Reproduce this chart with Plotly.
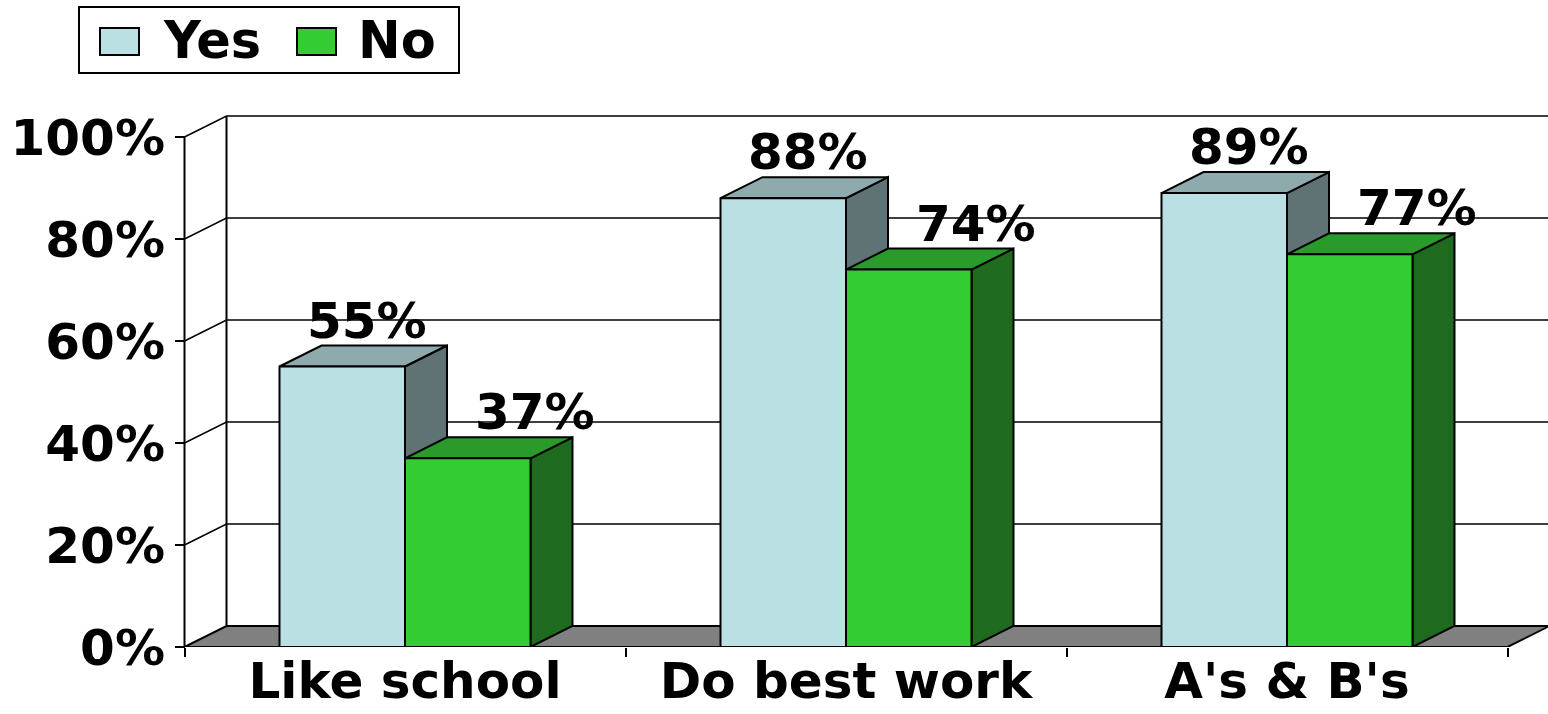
import plotly.graph_objects as go

# ---- data -------------------------------------------------------------
categories = ["Like school", "Do best work", "A's & B's"]
series_names = ["Yes", "No"]
yes_values = [55, 88, 89]
no_values = [37, 74, 77]
y_ticks = [0, 20, 40, 60, 80, 100]
y_tick_labels = ["0%", "20%", "40%", "60%", "80%", "100%"]

# ---- styling ----------------------------------------------------------
FONT = "DejaVu Sans"
FACE_COLORS = {
    "Yes": {"front": "#BBE0E3", "top": "#8FAAAC", "side": "#5F7374"},
    "No": {"front": "#33CC33", "top": "#2A9A2A", "side": "#1E6A1E"},
}
FLOOR_COLOR = "#808080"
EDGE = "black"

W, H = 1548, 714
MARGIN_B = 67
PX_PER_CAT = 441.0          # pixels per category slot
PX_PER_PCT = 5.1            # pixels per percent
FIRST_CENTER_PX = 405.0     # pixel x of first category centre
AXIS_PX = 185.0             # pixel x of the front value axis

BAR_W = 125.5 / PX_PER_CAT  # bar width in category units
DX = 42.0 / PX_PER_CAT      # depth offset (x) in category units
DY = 21.0 / PX_PER_PCT      # depth offset (y) in percent units

plot_h = H - MARGIN_B
x_lo = -(FIRST_CENTER_PX) / PX_PER_CAT
x_range = [x_lo, x_lo + W / PX_PER_CAT]
y_range = [0, plot_h / PX_PER_PCT]

n = len(categories)
left_edge = -0.5
right_edge = n - 0.5

fig = go.Figure()


def poly(xs, ys, fill, width=2):
    fig.add_trace(go.Scatter(
        x=list(xs) + [xs[0]], y=list(ys) + [ys[0]],
        mode="lines", fill="toself", fillcolor=fill,
        line=dict(color=EDGE, width=width),
        hoverinfo="skip", showlegend=False,
    ))


# back wall gridlines
gx, gy = [], []
for v in y_ticks[1:]:
    gx += [left_edge, left_edge + DX, x_range[1] + 1, None]
    gy += [v, v + DY, v + DY, None]
fig.add_trace(go.Scatter(x=gx, y=gy, mode="lines",
                         line=dict(color=EDGE, width=1.5),
                         hoverinfo="skip", showlegend=False))
# back wall left edge
fig.add_trace(go.Scatter(x=[left_edge + DX, left_edge + DX],
                         y=[DY, y_ticks[-1] + DY], mode="lines",
                         line=dict(color=EDGE, width=2),
                         hoverinfo="skip", showlegend=False))

# floor
poly([left_edge, right_edge, right_edge + DX, left_edge + DX],
     [0, 0, DY, DY], FLOOR_COLOR)

# bars: side, top, front for each box
for i in range(n):
    for s, (name, vals) in enumerate(zip(series_names, [yes_values, no_values])):
        v = vals[i]
        c = FACE_COLORS[name]
        x0 = i - BAR_W + s * BAR_W
        x1 = x0 + BAR_W
        poly([x1, x1 + DX, x1 + DX, x1], [0, DY, v + DY, v], c["side"])
        poly([x0, x1, x1 + DX, x0 + DX], [v, v, v + DY, v + DY], c["top"])
        poly([x0, x1, x1, x0], [0, 0, v, v], c["front"])

# front value axis line
fig.add_trace(go.Scatter(x=[left_edge, left_edge], y=[0, y_ticks[-1]],
                         mode="lines", line=dict(color=EDGE, width=2),
                         hoverinfo="skip", showlegend=False))

annotations = []
# value labels above each box
label_shift = {"Yes": 0.6 * DX, "No": 1.6 * DX}
for i in range(n):
    for s, (name, vals) in enumerate(zip(series_names, [yes_values, no_values])):
        v = vals[i]
        x0 = i - BAR_W + s * BAR_W
        annotations.append(dict(
            x=x0 + BAR_W / 2 + label_shift[name], y=v + DY,
            xref="x", yref="y", text=f"{v}%", showarrow=False,
            xanchor="center", yanchor="bottom", yshift=-6,
            font=dict(family=FONT, size=50, color="black", weight="bold"),
        ))

# legend box with swatches
def px_x(p):
    return p / W


def px_y(p):
    return 1 - p / plot_h


shapes = [
    dict(type="rect", xref="paper", yref="paper",
         x0=px_x(79), x1=px_x(459), y0=px_y(73), y1=px_y(7),
         line=dict(color=EDGE, width=2), fillcolor="white"),
]
legend_items = [(series_names[0], 100, 161), (series_names[1], 297, 356)]
for name, sx, tx in legend_items:
    shapes.append(dict(type="rect", xref="paper", yref="paper",
                       x0=px_x(sx), x1=px_x(sx + 39), y0=px_y(55), y1=px_y(28),
                       line=dict(color=EDGE, width=2),
                       fillcolor=FACE_COLORS[name]["front"]))
    annotations.append(dict(
        x=px_x(tx), y=px_y(41), xref="paper", yref="paper", text=name,
        showarrow=False, xanchor="left", yanchor="middle",
        font=dict(family=FONT, size=51, color="black", weight="bold"),
    ))

fig.update_layout(
    width=W, height=H,
    margin=dict(l=0, r=0, t=0, b=MARGIN_B, autoexpand=False),
    paper_bgcolor="white", plot_bgcolor="white",
    showlegend=False,
    shapes=shapes, annotations=annotations,
    xaxis=dict(
        range=x_range, showgrid=False, zeroline=False, showline=False,
        automargin=False,
        tickmode="array", tickvals=list(range(n)), ticktext=categories,
        ticks="", ticklen=0, ticklabelstandoff=0,
        tickfont=dict(family=FONT, size=50, color="black", weight="bold"),
        minor=dict(tickmode="array",
                   tickvals=[i - 0.5 for i in range(n + 1)],
                   ticks="outside", ticklen=9, tickwidth=2, tickcolor=EDGE),
    ),
    yaxis=dict(
        range=y_range, anchor="free", position=AXIS_PX / W,
        showgrid=False, zeroline=False, showline=False,
        automargin=False,
        tickmode="array", tickvals=y_ticks, ticktext=y_tick_labels,
        ticks="outside", ticklen=10, tickwidth=2, tickcolor=EDGE,
        ticklabelstandoff=0,
        tickfont=dict(family=FONT, size=50, color="black", weight="bold"),
    ),
)

fig.write_html("out.html")
